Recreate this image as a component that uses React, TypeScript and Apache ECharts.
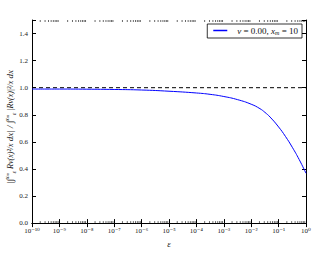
import React, { useEffect, useRef } from 'react';
import * as echarts from 'echarts';

const epsValues = [1e-10, 1e-9, 1e-8, 1e-7, 1e-6, 1e-5, 1e-4, 3.16e-4, 1e-3, 3.16e-3, 1e-2, 2.09e-2, 3.16e-2, 4.9e-2, 1e-1, 0.178, 0.316, 0.562, 1];
const ratioValues = [0.99, 0.99, 0.989, 0.987, 0.983, 0.974, 0.961, 0.951, 0.935, 0.912, 0.878, 0.845, 0.818, 0.783, 0.71, 0.64, 0.56, 0.47, 0.368];
const referenceLevel = 1.0;
const xMin = 1e-10;
const xMax = 1;
const yMin = 0;
const yMax = 1.5;
const yInterval = 0.2;
const seriesName = 'nu0';
const minorMultipliers = [2, 3, 4, 5, 6, 7, 8, 9];
const decadeExponents = [-10, -9, -8, -7, -6, -5, -4, -3, -2, -1];

const serif = "'Liberation Serif', 'DejaVu Serif', serif";
const supDigits: Record<string, string> = {
  '0': '⁰', '1': '¹', '2': '²', '3': '³', '4': '⁴', '5': '⁵', '6': '⁶', '7': '⁷', '8': '⁸', '9': '⁹', '-': '⁻',
};

export default function App() {
  const ref = useRef<HTMLDivElement>(null);
  useEffect(() => {
    if (!ref.current) return;
    const chart = echarts.init(ref.current, undefined, { renderer: 'svg' });
    const minorTicks: number[] = [];
    decadeExponents.forEach((e) => minorMultipliers.forEach((m) => minorTicks.push(m * Math.pow(10, e))));
    const logLabel = (v: number) => {
      const e = Math.round(Math.log10(v));
      return '10' + String(e).split('').map((c) => supDigits[c] || c).join('');
    };
    const xAxisBase = {
      type: 'log' as const,
      min: xMin,
      max: xMax,
      logBase: 10,
      interval: 1,
      axisLine: { lineStyle: { color: '#000', width: 1 } },
      axisTick: { inside: true, length: 4, lineStyle: { color: '#000' } },
      splitLine: { show: false },
      minorTick: { show: false },
    };
    const yAxisBase = {
      type: 'value' as const,
      min: yMin,
      max: yMax,
      interval: yInterval,
      axisLine: { show: true, lineStyle: { color: '#000', width: 1 } },
      axisTick: { show: true, inside: true, length: 4, lineStyle: { color: '#000' } },
      splitLine: { show: false },
    };
    chart.setOption({
      animation: false,
      grid: { left: 32, right: 23, top: 20, bottom: 21 },
      xAxis: [
        {
          ...xAxisBase,
          position: 'bottom',
          axisLabel: { formatter: logLabel, fontSize: 7, fontFamily: serif, color: '#222', margin: 4 },
          name: 'ε',
          nameLocation: 'middle',
          nameGap: 13,
          nameTextStyle: { fontFamily: serif, fontStyle: 'italic', fontSize: 9, color: '#222' },
        },
        { ...xAxisBase, position: 'top', axisLabel: { show: false } },
      ],
      yAxis: [
        {
          ...yAxisBase,
          position: 'left',
          axisLabel: {
            formatter: (v: number) => (Math.abs(v - yMax) < 1e-9 ? '' : v.toFixed(1)),
            fontSize: 7,
            fontFamily: serif,
            color: '#222',
            margin: 4,
          },
        },
        { ...yAxisBase, position: 'right', axisLabel: { show: false } },
      ],
      legend: {
        data: [seriesName],
        right: 27,
        top: 24,
        orient: 'vertical',
        itemWidth: 14,
        itemHeight: 1.5,
        itemGap: 0,
        padding: [2, 4, 2, 6],
        borderColor: '#000',
        borderWidth: 0.8,
        borderRadius: 0,
        backgroundColor: '#fff',
        icon: 'rect',
        formatter: () => '{i|ν} = 0.00, {i|x}{s|m} = 10',
        textStyle: {
          fontFamily: serif,
          fontSize: 9,
          color: '#111',
          padding: [0, 0, 0, 5],
          rich: {
            i: { fontFamily: serif, fontStyle: 'italic', fontSize: 9, color: '#111' },
            s: { fontFamily: serif, fontStyle: 'italic', fontSize: 6, color: '#111', padding: [5, 0, 0, 0] },
          },
        },
      },
      graphic: [
        {
          type: 'text',
          x: 10,
          y: 127,
          rotation: Math.PI / 2,
          style: {
            text: '|∫{sp|x}{sm|m}{sb|ε} {f|Rν(x)²/x} dx| / ∫{sp|x}{sm|m}{sb|ε} {f||Rν(x)|²/x} dx',
            fontFamily: serif,
            fontStyle: 'italic',
            fontSize: 9,
            fill: '#111',
            align: 'center',
            verticalAlign: 'middle',
            rich: {
              sp: { fontFamily: serif, fontStyle: 'italic', fontSize: 5.5, fill: '#111', padding: [0, 0, 7, 0] },
              sm: { fontFamily: serif, fontStyle: 'italic', fontSize: 4.5, fill: '#111', padding: [0, 0, 5, 0] },
              sb: { fontFamily: serif, fontStyle: 'italic', fontSize: 5.5, fill: '#111', padding: [7, 0, 0, 0] },
              f: { fontFamily: serif, fontStyle: 'italic', fontSize: 8, fill: '#111' },
            },
          },
        },
      ],
      series: [
        {
          name: seriesName,
          type: 'line',
          data: epsValues.map((x, i) => [x, ratioValues[i]]),
          smooth: 0.5,
          showSymbol: false,
          symbol: 'none',
          lineStyle: { color: '#0000ff', width: 1 },
          itemStyle: { color: '#0000ff' },
          z: 3,
        },
        {
          name: 'ref',
          type: 'line',
          data: [[xMin, referenceLevel], [xMax, referenceLevel]],
          showSymbol: false,
          symbol: 'none',
          lineStyle: { color: '#000', width: 1, type: [4, 3] },
          z: 2,
        },
        {
          name: 'minor',
          type: 'custom',
          clip: false,
          silent: true,
          data: minorTicks.map((v) => [v]),
          renderItem: (params: any, api: any) => {
            const v = api.value(0);
            const b = api.coord([v, yMin]);
            const t = api.coord([v, yMax]);
            const style = { stroke: '#000', lineWidth: 0.6 };
            return {
              type: 'group',
              children: [
                { type: 'line', shape: { x1: b[0], y1: b[1], x2: b[0], y2: b[1] - 2 }, style },
                { type: 'line', shape: { x1: t[0], y1: t[1], x2: t[0], y2: t[1] + 2 }, style },
              ],
            };
          },
        },
      ],
    });
    return () => chart.dispose();
  }, []);
  return <div ref={ref} style={{ width: 329, height: 253, position: 'absolute', left: 0, top: 0 }} />;
}
